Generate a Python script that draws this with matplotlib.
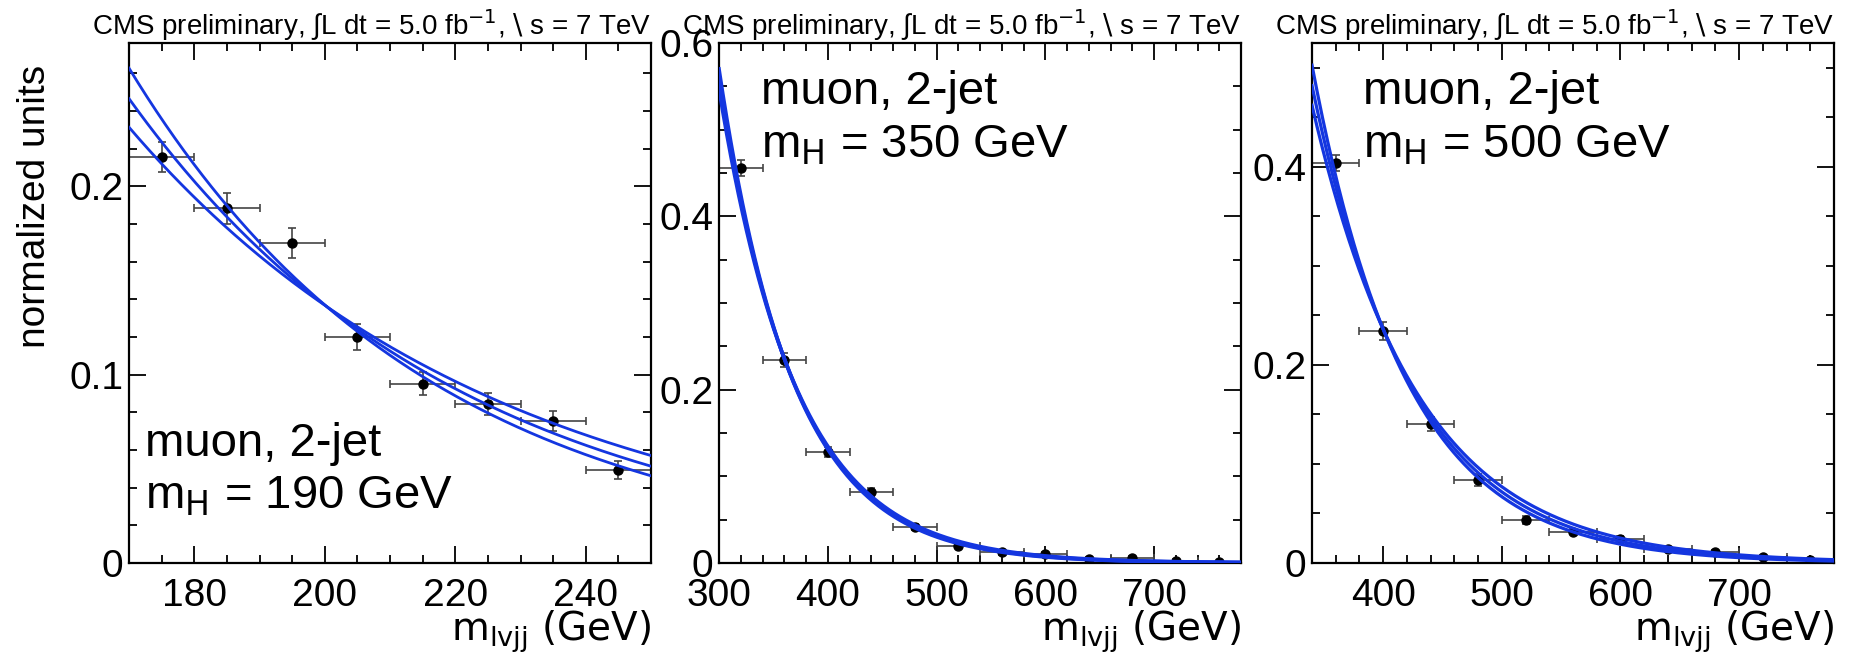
#!/usr/bin/env python3
# -*- coding: utf-8 -*-
import matplotlib

matplotlib.use("Agg")
import matplotlib.pyplot as plt
import matplotlib.ticker as ticker
import numpy as np

plt.rcParams["font.family"] = ["Liberation Sans Narrow", "Liberation Sans", "DejaVu Sans"]
plt.rcParams["mathtext.fontset"] = "custom"
plt.rcParams["mathtext.rm"] = "Liberation Sans Narrow"
plt.rcParams["mathtext.it"] = "Liberation Sans Narrow"
plt.rcParams["mathtext.default"] = "rm"

# --- data ---
# panel 1: mH = 190 GeV
p1_x = [175, 185, 195, 205, 215, 225, 235, 245]
p1_xerr = 5
p1_y = [0.2153, 0.1882, 0.1698, 0.1199, 0.0952, 0.0843, 0.0756, 0.0494]
p1_yerr = [0.0080, 0.0084, 0.0078, 0.0068, 0.0060, 0.0057, 0.0053, 0.0050]
p1_fit_pivot = (200.3, 0.1361)
p1_fit_slope = [0.0175, 0.0196, 0.0217]

# panel 2: mH = 350 GeV
p2_x = [320, 360, 400, 440, 480, 520, 560, 600, 640, 680, 720, 760]
p2_xerr = 20
p2_y = [0.456, 0.234, 0.128, 0.0816, 0.0419, 0.0200, 0.0123, 0.0104, 0.0050, 0.0058, 0.0027, 0.0012]
p2_yerr = [0.0095, 0.0080, 0.0060, 0.0045, 0.0035, 0.0030, 0.0025, 0.0025, 0.0020, 0.0020, 0.0015, 0.0015]
p2_fit_pivot = (360.0, 0.236)
p2_fit_slope = [0.0140, 0.0144, 0.0147]

# panel 3: mH = 500 GeV
p3_x = [360, 400, 440, 480, 520, 560, 600, 640, 680, 720, 760]
p3_xerr = 20
p3_y = [0.404, 0.234, 0.140, 0.0838, 0.043, 0.0318, 0.0244, 0.0139, 0.0115, 0.0064, 0.0030]
p3_yerr = [0.008, 0.009, 0.007, 0.006, 0.004, 0.003, 0.003, 0.002, 0.002, 0.002, 0.002]
p3_fit_pivot = (400.0, 0.236)
p3_fit_slope = [0.0112, 0.0119, 0.0126]

TITLE = "CMS preliminary, \u222bL dt = 5.0 fb$^{-1}$, $\\backslash$ s = 7 TeV"
XLABEL = "m$_{lvjj}$ (GeV)"
BLUE = "#1436e0"

FIG_W, FIG_H = 1851, 653


def yfmt(v, pos):
    return f"{v:g}"


def draw_panel(ax, x, xerr, y, yerr, pivot, slopes, xlim, ylim, xmaj, xmin_, ymaj, ymin_, lw):
    xs = np.linspace(xlim[0], xlim[1], 400)
    for k in slopes:
        ax.plot(xs, pivot[1] * np.exp(-k * (xs - pivot[0])), color=BLUE, lw=lw, zorder=3)
    ax.errorbar(x, y, xerr=xerr, yerr=yerr, fmt="o", color="black", ms=6.5,
                ecolor="#444444", elinewidth=1.2, capsize=3, capthick=1.2, zorder=2)
    ax.set_xlim(*xlim)
    ax.set_ylim(*ylim)
    ax.xaxis.set_major_locator(ticker.MultipleLocator(xmaj))
    ax.xaxis.set_minor_locator(ticker.MultipleLocator(xmin_))
    ax.yaxis.set_major_locator(ticker.MultipleLocator(ymaj))
    ax.yaxis.set_minor_locator(ticker.MultipleLocator(ymin_))
    ax.yaxis.set_major_formatter(ticker.FuncFormatter(yfmt))
    ax.tick_params(which="both", direction="in", top=True, right=True, width=1.3,
                   labelsize=28)
    ax.tick_params(which="major", length=12)
    ax.tick_params(which="minor", length=6)
    ax.tick_params(axis="x", pad=11)
    ax.tick_params(axis="y", pad=4)
    for sp in ax.spines.values():
        sp.set_linewidth(1.6)
    ax.set_title(TITLE, fontsize=20, pad=5, loc="right")
    ax.text(1.0, -0.15, XLABEL, transform=ax.transAxes, ha="right", va="baseline",
            fontsize=28, family=["DejaVu Sans"])
    return ax


fig = plt.figure(figsize=(FIG_W / 100, FIG_H / 100), dpi=100)
axw, axh = 522 / FIG_W, 520 / FIG_H
bottom = 90 / FIG_H
ax1 = fig.add_axes([129 / FIG_W, bottom, axw, axh])
ax2 = fig.add_axes([719 / FIG_W, bottom, axw, axh])
ax3 = fig.add_axes([1312 / FIG_W, bottom, axw, axh])

draw_panel(ax1, p1_x, p1_xerr, p1_y, p1_yerr, p1_fit_pivot, p1_fit_slope,
           (170, 250), (0, 0.276), 20, 5, 0.1, 0.02, 2.0)
draw_panel(ax2, p2_x, p2_xerr, p2_y, p2_yerr, p2_fit_pivot, p2_fit_slope,
           (300, 780), (0, 0.6), 100, 20, 0.2, 0.05, 2.6)
draw_panel(ax3, p3_x, p3_xerr, p3_y, p3_yerr, p3_fit_pivot, p3_fit_slope,
           (340, 780), (0, 0.525), 100, 20, 0.2, 0.05, 2.3)

ax1.text(0.03, 0.205, "muon, 2-jet", transform=ax1.transAxes, fontsize=34, va="baseline")
ax1.text(0.03, 0.105, "m$_H$ = 190 GeV", transform=ax1.transAxes, fontsize=34, va="baseline")
ax2.text(0.08, 0.883, "muon, 2-jet", transform=ax2.transAxes, fontsize=34, va="baseline")
ax2.text(0.08, 0.78, "m$_H$ = 350 GeV", transform=ax2.transAxes, fontsize=34, va="baseline")
ax3.text(0.098, 0.883, "muon, 2-jet", transform=ax3.transAxes, fontsize=34, va="baseline")
ax3.text(0.098, 0.78, "m$_H$ = 500 GeV", transform=ax3.transAxes, fontsize=34, va="baseline")

ax1.text(-0.18, 0.958, "normalized units", transform=ax1.transAxes, rotation=90,
         ha="center", va="top", fontsize=28, family=["Liberation Sans", "DejaVu Sans"])

fig.savefig("out.png", dpi=100)
